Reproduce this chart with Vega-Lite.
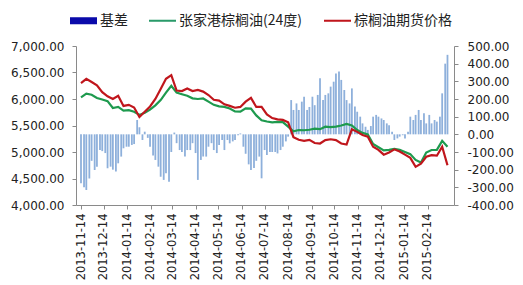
{
  "$schema": "https://vega.github.io/schema/vega-lite/v6.json",
  "width": 378,
  "height": 159,
  "autosize": {"type": "none"},
  "padding": {"left": 76, "top": 46, "right": 69, "bottom": 80},
  "background": "white",
  "config": {
    "view": {"stroke": null},
    "axis": {"grid": false, "domainColor": "#8a8a8a", "tickColor": "#8a8a8a", "tickSize": 4, "labelColor": "#222222", "labelFont": "DejaVu Sans", "labelFontSize": 12, "title": null, "labelOverlap": false, "labelFlush": false}
  },
  "datasets": {
    "weekly": [
      {"date": "2013-11-14", "spot": 6030, "futures": 6300},
      {"date": "2013-11-21", "spot": 6100, "futures": 6380},
      {"date": "2013-11-28", "spot": 6080, "futures": 6320},
      {"date": "2013-12-05", "spot": 6020, "futures": 6260},
      {"date": "2013-12-12", "spot": 5990, "futures": 6130},
      {"date": "2013-12-19", "spot": 5960, "futures": 6050},
      {"date": "2013-12-26", "spot": 5830, "futures": 6000},
      {"date": "2014-01-02", "spot": 5850, "futures": 6060},
      {"date": "2014-01-09", "spot": 5780, "futures": 5870},
      {"date": "2014-01-16", "spot": 5790, "futures": 5890},
      {"date": "2014-01-23", "spot": 5760, "futures": 5840},
      {"date": "2014-01-30", "spot": 5700, "futures": 5660},
      {"date": "2014-02-06", "spot": 5740, "futures": 5760},
      {"date": "2014-02-13", "spot": 5800, "futures": 5860},
      {"date": "2014-02-20", "spot": 5880, "futures": 6000},
      {"date": "2014-02-27", "spot": 5980, "futures": 6190},
      {"date": "2014-03-06", "spot": 6120, "futures": 6380},
      {"date": "2014-03-13", "spot": 6250, "futures": 6450},
      {"date": "2014-03-20", "spot": 6120, "futures": 6160},
      {"date": "2014-03-27", "spot": 6090, "futures": 6150},
      {"date": "2014-04-03", "spot": 6060, "futures": 6200},
      {"date": "2014-04-10", "spot": 6013, "futures": 6150},
      {"date": "2014-04-17", "spot": 6000, "futures": 6170},
      {"date": "2014-04-24", "spot": 6010, "futures": 6140},
      {"date": "2014-05-01", "spot": 5950, "futures": 6075},
      {"date": "2014-05-08", "spot": 5890, "futures": 5985},
      {"date": "2014-05-15", "spot": 5860, "futures": 5970},
      {"date": "2014-05-22", "spot": 5850, "futures": 5900},
      {"date": "2014-05-29", "spot": 5820, "futures": 5870},
      {"date": "2014-06-05", "spot": 5765, "futures": 5835},
      {"date": "2014-06-12", "spot": 5760, "futures": 5850},
      {"date": "2014-06-19", "spot": 5824, "futures": 5950},
      {"date": "2014-06-26", "spot": 5820, "futures": 6020},
      {"date": "2014-07-03", "spot": 5690, "futures": 5850},
      {"date": "2014-07-10", "spot": 5600, "futures": 5850},
      {"date": "2014-07-17", "spot": 5575, "futures": 5710},
      {"date": "2014-07-24", "spot": 5560, "futures": 5640},
      {"date": "2014-07-31", "spot": 5570, "futures": 5615},
      {"date": "2014-08-07", "spot": 5565, "futures": 5605},
      {"date": "2014-08-14", "spot": 5480, "futures": 5560},
      {"date": "2014-08-21", "spot": 5390, "futures": 5280},
      {"date": "2014-08-28", "spot": 5415, "futures": 5230},
      {"date": "2014-09-04", "spot": 5410, "futures": 5210},
      {"date": "2014-09-11", "spot": 5420, "futures": 5230},
      {"date": "2014-09-18", "spot": 5440, "futures": 5170},
      {"date": "2014-09-25", "spot": 5430, "futures": 5160},
      {"date": "2014-10-02", "spot": 5478, "futures": 5225},
      {"date": "2014-10-09", "spot": 5470, "futures": 5240},
      {"date": "2014-10-16", "spot": 5480, "futures": 5225},
      {"date": "2014-10-23", "spot": 5500, "futures": 5160},
      {"date": "2014-10-30", "spot": 5530, "futures": 5140},
      {"date": "2014-11-06", "spot": 5500, "futures": 5430},
      {"date": "2014-11-13", "spot": 5415, "futures": 5380},
      {"date": "2014-11-20", "spot": 5360, "futures": 5321},
      {"date": "2014-11-27", "spot": 5330, "futures": 5290},
      {"date": "2014-12-04", "spot": 5150, "futures": 5100},
      {"date": "2014-12-11", "spot": 5090, "futures": 5040},
      {"date": "2014-12-18", "spot": 5030, "futures": 4950},
      {"date": "2014-12-25", "spot": 5040, "futures": 4990},
      {"date": "2015-01-01", "spot": 5060, "futures": 5050},
      {"date": "2015-01-08", "spot": 5040, "futures": 5010},
      {"date": "2015-01-15", "spot": 5000, "futures": 4950},
      {"date": "2015-01-22", "spot": 4960, "futures": 4890},
      {"date": "2015-01-29", "spot": 4850, "futures": 4720},
      {"date": "2015-02-05", "spot": 4800, "futures": 4780},
      {"date": "2015-02-12", "spot": 4990, "futures": 4910},
      {"date": "2015-02-19", "spot": 5038, "futures": 4940},
      {"date": "2015-02-26", "spot": 5040, "futures": 4930},
      {"date": "2015-03-05", "spot": 5210, "futures": 5100},
      {"date": "2015-03-12", "spot": 5100, "futures": 4750}
    ],
    "basis": [
      {"date": "2013-11-14", "basis": -277}, {"date": "2013-11-18", "basis": -300},
      {"date": "2013-11-21", "basis": -315}, {"date": "2013-11-25", "basis": -250},
      {"date": "2013-11-28", "basis": -150}, {"date": "2013-12-02", "basis": -202},
      {"date": "2013-12-05", "basis": -183}, {"date": "2013-12-09", "basis": -89},
      {"date": "2013-12-12", "basis": -95}, {"date": "2013-12-16", "basis": -106},
      {"date": "2013-12-19", "basis": -192}, {"date": "2013-12-23", "basis": -183},
      {"date": "2013-12-26", "basis": -200}, {"date": "2013-12-30", "basis": -211},
      {"date": "2014-01-02", "basis": -164}, {"date": "2014-01-06", "basis": -126},
      {"date": "2014-01-09", "basis": -79}, {"date": "2014-01-13", "basis": -70},
      {"date": "2014-01-16", "basis": -70}, {"date": "2014-01-20", "basis": -60},
      {"date": "2014-01-23", "basis": -55}, {"date": "2014-01-27", "basis": 81},
      {"date": "2014-01-30", "basis": 40}, {"date": "2014-02-03", "basis": -32},
      {"date": "2014-02-06", "basis": 15}, {"date": "2014-02-10", "basis": -20},
      {"date": "2014-02-13", "basis": -70}, {"date": "2014-02-17", "basis": -120},
      {"date": "2014-02-20", "basis": -145}, {"date": "2014-02-24", "basis": -183},
      {"date": "2014-02-27", "basis": -240}, {"date": "2014-03-03", "basis": -258},
      {"date": "2014-03-06", "basis": -220}, {"date": "2014-03-10", "basis": -268},
      {"date": "2014-03-13", "basis": -100}, {"date": "2014-03-17", "basis": 10},
      {"date": "2014-03-20", "basis": -50}, {"date": "2014-03-24", "basis": -89},
      {"date": "2014-03-27", "basis": -100}, {"date": "2014-03-31", "basis": -126},
      {"date": "2014-04-03", "basis": -89}, {"date": "2014-04-07", "basis": -89},
      {"date": "2014-04-10", "basis": -50}, {"date": "2014-04-14", "basis": -106},
      {"date": "2014-04-17", "basis": -258}, {"date": "2014-04-21", "basis": -145},
      {"date": "2014-04-24", "basis": -126}, {"date": "2014-04-28", "basis": -126},
      {"date": "2014-05-01", "basis": -70}, {"date": "2014-05-05", "basis": -50},
      {"date": "2014-05-08", "basis": -89}, {"date": "2014-05-12", "basis": -106},
      {"date": "2014-05-15", "basis": -60}, {"date": "2014-05-19", "basis": -32},
      {"date": "2014-05-22", "basis": -89}, {"date": "2014-05-26", "basis": -32},
      {"date": "2014-05-29", "basis": -51}, {"date": "2014-06-02", "basis": -40},
      {"date": "2014-06-05", "basis": -32}, {"date": "2014-06-09", "basis": -5},
      {"date": "2014-06-12", "basis": 5}, {"date": "2014-06-16", "basis": -70},
      {"date": "2014-06-19", "basis": -110}, {"date": "2014-06-23", "basis": -170},
      {"date": "2014-06-26", "basis": -202}, {"date": "2014-06-30", "basis": -190},
      {"date": "2014-07-03", "basis": -150}, {"date": "2014-07-07", "basis": -126},
      {"date": "2014-07-10", "basis": -249}, {"date": "2014-07-14", "basis": -89},
      {"date": "2014-07-17", "basis": -117}, {"date": "2014-07-21", "basis": -100},
      {"date": "2014-07-24", "basis": -100}, {"date": "2014-07-28", "basis": -100},
      {"date": "2014-07-31", "basis": -108}, {"date": "2014-08-04", "basis": -89},
      {"date": "2014-08-07", "basis": -70}, {"date": "2014-08-11", "basis": -40},
      {"date": "2014-08-14", "basis": -13}, {"date": "2014-08-18", "basis": 194},
      {"date": "2014-08-21", "basis": 138}, {"date": "2014-08-25", "basis": 175},
      {"date": "2014-08-28", "basis": 138}, {"date": "2014-09-01", "basis": 185},
      {"date": "2014-09-04", "basis": 213}, {"date": "2014-09-08", "basis": 138},
      {"date": "2014-09-11", "basis": 155}, {"date": "2014-09-15", "basis": 213},
      {"date": "2014-09-18", "basis": 165}, {"date": "2014-09-22", "basis": 223},
      {"date": "2014-09-25", "basis": 317}, {"date": "2014-09-29", "basis": 194},
      {"date": "2014-10-02", "basis": 223}, {"date": "2014-10-06", "basis": 232},
      {"date": "2014-10-09", "basis": 270}, {"date": "2014-10-13", "basis": 298},
      {"date": "2014-10-16", "basis": 345}, {"date": "2014-10-20", "basis": 355},
      {"date": "2014-10-23", "basis": 308}, {"date": "2014-10-27", "basis": 251},
      {"date": "2014-10-30", "basis": 194}, {"date": "2014-11-03", "basis": 175},
      {"date": "2014-11-06", "basis": 260}, {"date": "2014-11-10", "basis": 157},
      {"date": "2014-11-13", "basis": 128}, {"date": "2014-11-17", "basis": 100},
      {"date": "2014-11-20", "basis": 62}, {"date": "2014-11-24", "basis": 43},
      {"date": "2014-11-27", "basis": 25}, {"date": "2014-12-01", "basis": 47},
      {"date": "2014-12-04", "basis": 100}, {"date": "2014-12-08", "basis": 110},
      {"date": "2014-12-11", "basis": 100}, {"date": "2014-12-15", "basis": 90},
      {"date": "2014-12-18", "basis": 81}, {"date": "2014-12-22", "basis": 62},
      {"date": "2014-12-25", "basis": 52}, {"date": "2014-12-29", "basis": 15},
      {"date": "2015-01-01", "basis": -32}, {"date": "2015-01-05", "basis": -23},
      {"date": "2015-01-08", "basis": -13}, {"date": "2015-01-12", "basis": -5},
      {"date": "2015-01-15", "basis": -23}, {"date": "2015-01-19", "basis": 15},
      {"date": "2015-01-22", "basis": 100}, {"date": "2015-01-26", "basis": 81},
      {"date": "2015-01-29", "basis": 110}, {"date": "2015-02-02", "basis": 138},
      {"date": "2015-02-05", "basis": 81}, {"date": "2015-02-09", "basis": 119},
      {"date": "2015-02-12", "basis": 62}, {"date": "2015-02-16", "basis": 110},
      {"date": "2015-02-19", "basis": 62}, {"date": "2015-02-23", "basis": 81},
      {"date": "2015-02-26", "basis": 72}, {"date": "2015-03-02", "basis": 100},
      {"date": "2015-03-05", "basis": 232}, {"date": "2015-03-09", "basis": 400},
      {"date": "2015-03-12", "basis": 450}
    ]
  },
  "layer": [
    {
      "data": {"name": "basis"},
      "mark": {"type": "bar", "size": 1.8, "color": "#8EB0DB"},
      "encoding": {
        "x": {
          "field": "date", "type": "temporal",
          "scale": {"type": "utc", "domain": [{"year": 2013, "month": 11, "date": 14, "utc": true}, {"year": 2015, "month": 3, "date": 14, "utc": true}]},
          "axis": {
            "format": "%Y-%m-%d", "labelAngle": 270, "labelPadding": 4, "labelFontSize": 11.5,
            "labelOverlap": false, "labelFlush": false, "tickCount": 40,
            "values": [
              {"year": 2013, "month": 11, "date": 14, "utc": true},
              {"year": 2013, "month": 12, "date": 14, "utc": true},
              {"year": 2014, "month": 1, "date": 14, "utc": true},
              {"year": 2014, "month": 2, "date": 14, "utc": true},
              {"year": 2014, "month": 3, "date": 14, "utc": true},
              {"year": 2014, "month": 4, "date": 14, "utc": true},
              {"year": 2014, "month": 5, "date": 14, "utc": true},
              {"year": 2014, "month": 6, "date": 14, "utc": true},
              {"year": 2014, "month": 7, "date": 14, "utc": true},
              {"year": 2014, "month": 8, "date": 14, "utc": true},
              {"year": 2014, "month": 9, "date": 14, "utc": true},
              {"year": 2014, "month": 10, "date": 14, "utc": true},
              {"year": 2014, "month": 11, "date": 14, "utc": true},
              {"year": 2014, "month": 12, "date": 14, "utc": true},
              {"year": 2015, "month": 1, "date": 14, "utc": true},
              {"year": 2015, "month": 2, "date": 14, "utc": true}
            ]
          }
        },
        "y": {
          "field": "basis", "type": "quantitative",
          "scale": {"domain": [-400, 500], "nice": false, "zero": false},
          "axis": {"orient": "right", "values": [-400, -300, -200, -100, 0, 100, 200, 300, 400, 500], "format": ".2f", "labelExpr": "replace(datum.label, '\u2212', '-')", "labelPadding": 9, "tickCount": 20}
        }
      }
    },
    {
      "data": {"name": "weekly"},
      "encoding": {
        "x": {"field": "date", "type": "temporal", "axis": {"labelOverlap": false, "labelFlush": false, "tickCount": 40}}
      },
      "layer": [
        {
          "mark": {"type": "line", "strokeWidth": 2.2, "interpolate": "linear"},
          "encoding": {
            "y": {
              "field": "spot", "type": "quantitative",
              "scale": {"domain": [4000, 7000], "nice": false, "zero": false},
              "axis": {"orient": "left", "values": [4000, 4500, 5000, 5500, 6000, 6500, 7000], "format": ",.2f", "labelPadding": 8, "tickCount": 20}
            },
            "color": {
              "datum": "张家港棕榈油(24度)",
              "scale": {"domain": ["基差", "张家港棕榈油(24度)", "棕榈油期货价格"], "range": ["#0A0AAA", "#1E9A4E", "#C0161C"]},
              "legend": {
                "orient": "none", "legendX": -6, "legendY": -39, "direction": "horizontal",
                "title": null, "padding": 0, "symbolSize": 729, "symbolStrokeWidth": 0,
                "labelFont": "Noto Sans CJK SC", "labelFontSize": 14, "labelColor": "#222222",
                "labelOffset": 3, "columnPadding": 21,
                "encode": {
                  "symbols": {
                    "update": {
                      "shape": {"signal": "datum.value === '基差' ? 'M-1,-0.26H1V0.26H-1Z' : 'M-1,-0.075H1V0.075H-1Z'"},
                      "fill": {"signal": "datum.value === '基差' ? '#0A0AAA' : (datum.value === '棕榈油期货价格' ? '#C0161C' : '#2A9A6A')"},
                      "strokeWidth": {"value": 0},
                      "opacity": {"value": 1}
                    }
                  }
                }
              }
            }
          }
        },
        {
          "mark": {"type": "line", "strokeWidth": 2.2, "interpolate": "linear"},
          "encoding": {
            "y": {"field": "futures", "type": "quantitative"},
            "color": {"datum": "棕榈油期货价格"}
          }
        }
      ]
    }
  ],
  "resolve": {"scale": {"y": "independent"}}
}
